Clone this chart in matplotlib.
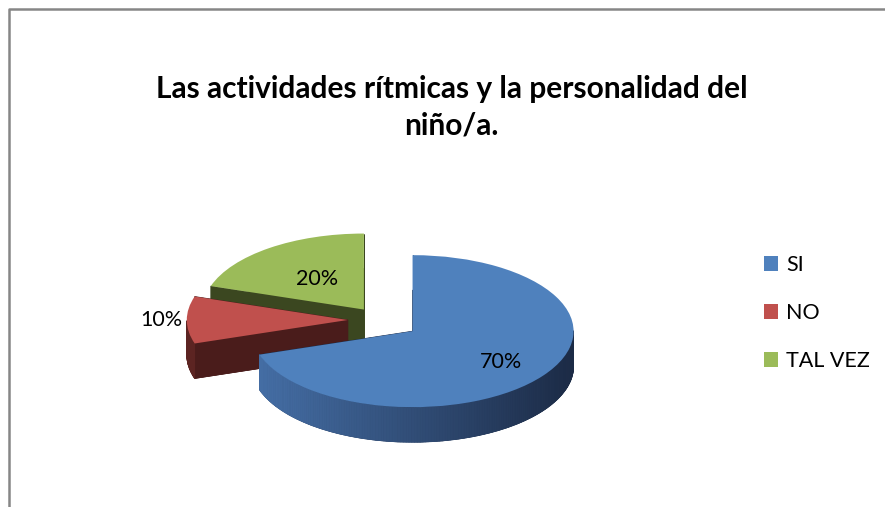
import numpy as np
import matplotlib.pyplot as plt
import matplotlib.colors as mcolors
from matplotlib.patches import Polygon, Wedge
from matplotlib.transforms import Affine2D
from matplotlib.lines import Line2D

# Data
labels = ["SI", "NO", "TAL VEZ"]
values = [70, 10, 20]
colors = ["#4F81BD", "#C0504D", "#9BBB59"]
side_light = ["#4670A8", "#5C2422", "#48572A"]
side_dark = ["#1C2B46", "#4A1C1B", "#3B4720"]
explode = [0.25, 0.2, 0.17]
label_dist = [0.68, 1.16, 0.5]

W, H = 885, 507
fig = plt.figure(figsize=(W / 100, H / 100), dpi=100)
ax = fig.add_axes([0, 0, 1, 1])

cx, cy = 380, H - 320
rx = 161
tilt = 76 / 161
depth = 35

# pie offsets are in data units, so scale explode by the radius
wedges, _ = ax.pie(values, colors=colors, startangle=90, counterclock=False,
                   explode=[e * rx for e in explode], radius=rx, center=(cx, cy),
                   frame=True)
ax.set_xlim(0, W)
ax.set_ylim(0, H)
ax.set_aspect("equal")
ax.axis("off")

squash = Affine2D().translate(-cx, -cy).scale(1, tilt).translate(cx, cy)


def proj(x, y):
    return np.array([x, cy + (y - cy) * tilt])


def blend(c1, c2, t):
    a = np.array(mcolors.to_rgb(c1))
    b = np.array(mcolors.to_rgb(c2))
    return tuple(a + (b - a) * t)


# draw back slices first: TAL VEZ, NO, then SI in front
for k, i in enumerate([2, 1, 0]):
    w = wedges[i]
    (wx, wy), r = w.center, w.r
    t1, t2 = w.theta1, w.theta2
    z = 2 + 3 * k
    down = np.array([0, depth])

    base = Wedge((wx, wy), r, t1, t2, facecolor=side_dark[i], edgecolor=side_dark[i],
                 lw=0.5, zorder=z)
    base.set_transform(squash + Affine2D().translate(0, -depth) + ax.transData)
    ax.add_patch(base)

    c = proj(wx, wy)
    for a in (t1, t2):
        p = proj(wx + r * np.cos(np.radians(a)), wy + r * np.sin(np.radians(a)))
        ax.add_patch(Polygon([c, p, p - down, c - down], closed=True,
                             facecolor=side_dark[i], edgecolor=side_dark[i],
                             lw=0.5, zorder=z + 0.3))

    angs = np.linspace(t1, t2, int(abs(t2 - t1)) + 2)
    for a0, a1 in zip(angs[:-1], angs[1:]):
        am = np.radians((a0 + a1) / 2)
        if np.sin(am) >= 0:
            continue
        p0 = proj(wx + r * np.cos(np.radians(a0)), wy + r * np.sin(np.radians(a0)))
        p1 = proj(wx + r * np.cos(np.radians(a1)), wy + r * np.sin(np.radians(a1)))
        col = blend(side_light[i], side_dark[i], (np.cos(am) + 1) / 2)
        ax.add_patch(Polygon([p0, p1, p1 - down, p0 - down], closed=True,
                             facecolor=col, edgecolor=col, lw=0.6, zorder=z + 0.6))

    w.set_transform(squash + ax.transData)
    w.set_zorder(z + 1)

    mid = np.radians((t1 + t2) / 2)
    lp = proj(wx + label_dist[i] * r * np.cos(mid), wy + label_dist[i] * r * np.sin(mid))
    ax.text(lp[0], lp[1], "{:d}%".format(values[i]), ha="center", va="center",
            fontsize=15.5, family="Lato", color="black", zorder=20)

fig.text(0.51, 1 - 75 / H, "Las actividades rítmicas y la personalidad del\nniño/a.",
         ha="center", va="top", fontsize=21.5, fontweight="bold", family="Lato",
         linespacing=1.35)

ax.legend(wedges, labels, loc="center left", bbox_to_anchor=(745 / W, 1 - 313 / H),
          frameon=False, prop={"family": "Lato", "size": 15.5},
          handlelength=0.65, handleheight=0.65, handletextpad=0.35, labelspacing=1.3)

fig.add_artist(Line2D([9 / W, 9 / W, 1], [0, 1 - 9 / H, 1 - 9 / H],
                      transform=fig.transFigure, color="#868686", lw=1.8))

fig.savefig("out.png", dpi=100)
